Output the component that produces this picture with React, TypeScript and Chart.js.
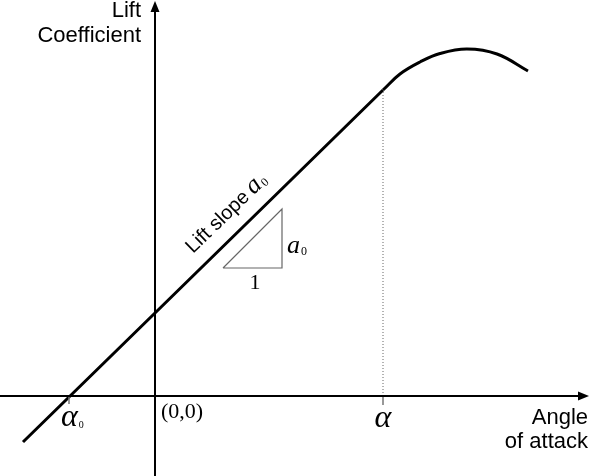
import React, { useEffect, useRef } from "react";
import { Chart, registerables } from "chart.js";

Chart.register(...registerables);

// Data (arbitrary axis units, origin at (0,0))
const alphaZero = -86; // zero-lift angle of attack
const alphaStall = 228; // end of linear region
const liftLineX = [-132, 0, 228];
const liftLineY = [-46, 83, 306];
const stallCurveX = [228, 245, 265, 285, 312, 342, 373];
const stallCurveY = [306, 322, 334, 342.5, 347, 342, 325];
const triangleX = [68, 127, 127, 68];
const triangleY = [128, 128, 187, 128];
const yTitleLines = ["Lift", "Coefficient"];
const xTitleLines = ["Angle", "of attack"];
const slopeLabel = "Lift slope ";
const originLabel = "(0,0)";
const runLabel = "1";

const X_MIN = -155;
const X_MAX = 435;
const Y_MIN = -80;
const Y_MAX = 396;

const pts = (xs: number[], ys: number[]) => xs.map((x, i) => ({ x, y: ys[i] }));

const SANS = "'Liberation Sans', Arial, sans-serif";
const SERIF = "'Liberation Serif', 'Times New Roman', serif";

function drawSub(ctx: CanvasRenderingContext2D, x: number, y: number, main: string, mainFont: string, sub: string, subFont: string) {
  ctx.font = mainFont;
  const w = ctx.measureText(main).width;
  ctx.textAlign = "left";
  ctx.fillText(main, x, y);
  ctx.font = subFont;
  ctx.fillText(sub, x + w + 1, y + 2);
}

const annotPlugin = {
  id: "annot",
  afterDatasetsDraw(chart: any) {
    const { ctx } = chart;
    const xs = chart.scales.x;
    const ys = chart.scales.y;
    const px = (v: number) => xs.getPixelForValue(v);
    const py = (v: number) => ys.getPixelForValue(v);
    ctx.save();
    ctx.fillStyle = "#000";
    // arrowheads
    const xtX = px(434), xtY = py(0);
    ctx.beginPath();
    ctx.moveTo(xtX, xtY);
    ctx.lineTo(xtX - 11, xtY - 4.5);
    ctx.lineTo(xtX - 11, xtY + 4.5);
    ctx.closePath();
    ctx.fill();
    const ytX = px(0), ytY = py(395);
    ctx.beginPath();
    ctx.moveTo(ytX, ytY);
    ctx.lineTo(ytX - 4.5, ytY + 11);
    ctx.lineTo(ytX + 4.5, ytY + 11);
    ctx.closePath();
    ctx.fill();

    ctx.textBaseline = "alphabetic";
    // axis titles
    ctx.font = `22px ${SANS}`;
    ctx.textAlign = "right";
    ctx.fillText(yTitleLines[0], px(-14), py(379));
    ctx.fillText(yTitleLines[1], px(-14), py(354));
    ctx.fillText(xTitleLines[0], px(433), py(-28));
    ctx.fillText(xTitleLines[1], px(433), py(-52));

    // origin label
    ctx.font = `22px ${SERIF}`;
    ctx.textAlign = "left";
    ctx.fillText(originLabel, px(6), py(-22));

    // alpha labels
    drawSub(ctx, px(-94), py(-30), "\u03B1", `italic 32px ${SERIF}`, "0", `10px ${SERIF}`);
    ctx.textAlign = "center";
    ctx.font = `italic 32px ${SERIF}`;
    ctx.fillText("\u03B1", px(alphaStall), py(-31));

    // triangle labels
    ctx.font = `22px ${SERIF}`;
    ctx.textAlign = "center";
    ctx.fillText(runLabel, px(100), py(107));
    drawSub(ctx, px(132), py(143), "a", `italic 26px ${SERIF}`, "0", `12px ${SERIF}`);

    // slope label along line
    ctx.save();
    ctx.translate(px(38), py(142));
    ctx.rotate((-44 * Math.PI) / 180);
    ctx.font = `20px ${SANS}`;
    ctx.textAlign = "left";
    ctx.fillText(slopeLabel, 0, 0);
    ctx.font = `20px ${SANS}`;
    const w = ctx.measureText(slopeLabel).width;
    drawSub(ctx, w - 1, 0, "a", `italic 26px ${SERIF}`, "0", `12px ${SERIF}`);
    ctx.restore();

    ctx.restore();
  },
};

export default function App() {
  const ref = useRef<HTMLCanvasElement | null>(null);
  useEffect(() => {
    if (!ref.current) return;
    const chart = new Chart(ref.current, {
      type: "scatter",
      data: {
        datasets: [
          {
            data: [{ x: X_MIN, y: 0 }, { x: 430, y: 0 }],
            showLine: true,
            borderColor: "#000",
            borderWidth: 2,
            pointRadius: 0,
          },
          {
            data: [{ x: 0, y: Y_MIN }, { x: 0, y: 390 }],
            showLine: true,
            borderColor: "#000",
            borderWidth: 2,
            pointRadius: 0,
          },
          {
            data: [{ x: alphaStall, y: 0 }, { x: alphaStall, y: 306 }],
            showLine: true,
            borderColor: "#666",
            borderWidth: 1,
            borderDash: [1, 2],
            pointRadius: 0,
          },
          {
            data: [{ x: alphaStall, y: 0 }, { x: alphaStall, y: -9 }],
            showLine: true,
            borderColor: "#777",
            borderWidth: 1.5,
            pointRadius: 0,
          },
          {
            data: [{ x: alphaZero, y: 0 }, { x: alphaZero, y: -8 }],
            showLine: true,
            borderColor: "#777",
            borderWidth: 1.5,
            pointRadius: 0,
          },
          {
            data: pts(triangleX, triangleY),
            showLine: true,
            borderColor: "#666",
            borderWidth: 1.2,
            pointRadius: 0,
          },
          {
            data: pts(liftLineX, liftLineY),
            showLine: true,
            borderColor: "#000",
            borderWidth: 3,
            pointRadius: 0,
            borderCapStyle: "butt",
          },
          {
            data: pts(stallCurveX, stallCurveY),
            showLine: true,
            borderColor: "#000",
            borderWidth: 3,
            pointRadius: 0,
            tension: 0.4,
          },
        ],
      } as any,
      options: {
        animation: false,
        responsive: false,
        maintainAspectRatio: false,
        layout: { padding: 0 },
        plugins: { legend: { display: false }, tooltip: { enabled: false } },
        scales: {
          x: { type: "linear", min: X_MIN, max: X_MAX, display: false },
          y: { type: "linear", min: Y_MIN, max: Y_MAX, display: false },
        },
      } as any,
      plugins: [annotPlugin],
    });
    return () => chart.destroy();
  }, []);
  return (
    <div style={{ position: "fixed", left: 0, top: 0, width: 590, height: 476, background: "#fff" }}>
      <canvas ref={ref} width={590} height={476} style={{ width: 590, height: 476, display: "block" }} />
    </div>
  );
}
